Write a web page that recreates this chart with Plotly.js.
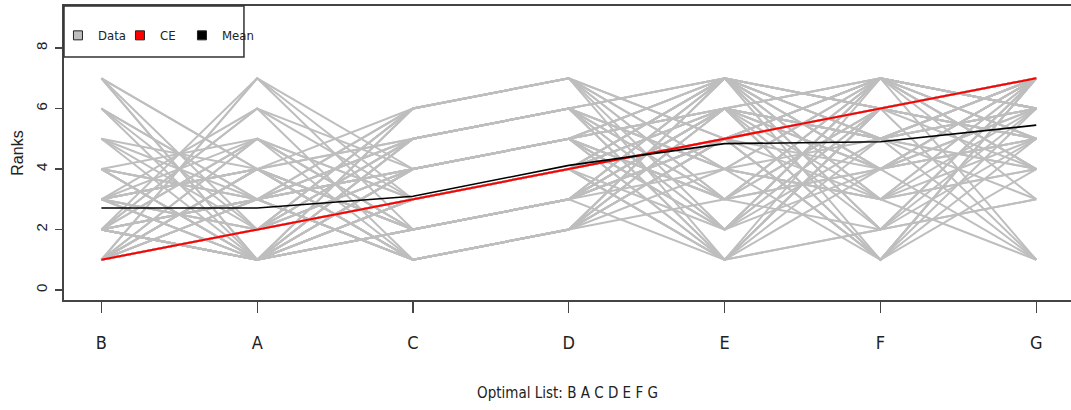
<!DOCTYPE html>
<html>
<head>
<meta charset="utf-8">
<script src="https://cdn.plot.ly/plotly-3.0.1.min.js"></script>
<style>
  html, body { margin: 0; padding: 0; background: #ffffff; }
  #chart { width: 1071px; height: 410px; }
</style>
</head>
<body>
<div id="chart"></div>
<script>
// Positions on the x axis (the optimal list order)
const categories = ['B', 'A', 'C', 'D', 'E', 'F', 'G'];

// Rank given to each item by each of the 80 rankings (one value per ranking)
const ranksB = [3,3,4,3,7,6,4,1,4,1,4,6,1,4,7,1,2,1,2,2,6,2,2,1,2,2,1,3,6,2,1,2,2,2,1,2,1,2,1,1,
                5,3,3,4,3,5,1,4,4,1,7,5,1,5,1,2,2,1,7,2,2,1,3,2,1,3,2,1,7,2,3,1,3,2,3,1,2,3,1,2];
const ranksA = [4,4,3,6,4,3,3,4,1,5,1,1,7,1,1,2,1,2,5,1,2,1,7,3,3,1,2,1,3,6,2,3,1,1,3,1,2,3,2,3,
                3,5,4,3,4,4,4,1,5,4,4,1,5,2,2,6,1,2,1,1,5,2,2,3,7,1,1,3,2,1,2,4,1,3,4,2,1,2,4,1];
const ranksC = [1,1,1,1,1,1,1,2,2,2,2,2,2,2,2,3,3,3,3,3,3,3,3,4,4,4,4,4,4,4,5,5,5,5,5,5,6,6,6,6,
                1,1,1,1,1,2,2,2,2,2,2,2,2,3,3,3,3,3,3,3,3,3,4,4,4,4,4,4,4,4,5,5,5,5,5,5,6,6,6,6];
const ranksD = [2,2,2,2,2,2,2,3,3,3,3,3,3,3,3,4,4,4,4,4,4,4,4,5,5,5,5,5,5,5,6,6,6,6,6,6,7,7,7,7,
                2,2,2,2,2,3,3,3,3,3,3,3,3,4,4,4,4,4,4,4,4,4,5,5,5,5,5,5,5,5,6,6,6,6,6,6,7,7,7,7];
const ranksE = [6,7,5,5,3,7,5,6,5,7,5,4,5,7,6,5,6,7,1,7,7,5,6,2,6,7,6,2,1,3,3,4,7,4,2,3,3,5,4,2,
                6,4,7,6,5,1,6,6,6,5,5,7,6,1,5,5,7,6,2,5,1,7,1,7,6,2,3,7,6,3,1,7,2,7,1,4,5,1,3,4];
const ranksF = [5,6,7,4,6,5,6,5,7,4,6,7,6,6,4,6,5,6,7,5,1,6,5,6,1,3,7,7,2,7,4,1,3,3,7,7,4,1,5,4,
                4,7,5,5,6,6,5,7,1,7,1,4,4,6,7,1,6,7,5,7,6,5,6,6,2,6,6,2,3,7,4,2,7,4,2,3,3,5,2,3];
const ranksG = [7,5,6,7,5,4,7,7,6,6,7,5,4,5,5,7,7,5,6,6,5,7,1,7,7,6,3,6,7,1,7,7,4,7,4,4,5,4,3,5,
                7,6,6,7,7,7,7,5,7,6,6,6,7,7,6,7,5,5,6,6,7,6,7,1,3,7,7,6,1,6,7,3,4,1,7,7,4,4,5,5];

// Consensus estimate (CE) and mean rank per position
const ceRanks   = [1, 2, 3, 4, 5, 6, 7];
const meanRanks = [2.71, 2.71, 3.10, 4.12, 4.84, 4.90, 5.45];

const yTicks = [0, 2, 4, 6, 8];
const xTitle = 'Optimal List: B A C D E F G';
const yTitle = 'Ranks';

// Build the gray "Data" lines as one trace with gaps between rankings
const columns = [ranksB, ranksA, ranksC, ranksD, ranksE, ranksF, ranksG];
const dataX = [], dataY = [];
for (let i = 0; i < ranksB.length; i++) {
  for (let j = 0; j < categories.length; j++) {
    dataX.push(categories[j]);
    dataY.push(columns[j][i]);
  }
  dataX.push(null);
  dataY.push(null);
}

const GRAY = '#bebebe';
const narrow = '"Liberation Sans Narrow", "Arial Narrow", "DejaVu Sans Condensed", sans-serif';
const regular = '"Liberation Sans", Arial, sans-serif';

function legendEntry(name, color, lineColor, lineWidth) {
  return { type: 'scatter', mode: 'markers', x: [null], y: [null], name: name, hoverinfo: 'skip',
    marker: { symbol: 'square', size: 9, color: color, line: { color: lineColor, width: lineWidth } } };
}

const traces = [
  { type: 'scatter', mode: 'lines', x: dataX, y: dataY, connectgaps: false,
    line: { color: GRAY, width: 2 }, showlegend: false, hoverinfo: 'skip', name: 'Data' },
  { type: 'scatter', mode: 'lines', x: categories, y: ceRanks,
    line: { color: '#ff0000', width: 2 }, showlegend: false, name: 'CE' },
  { type: 'scatter', mode: 'lines', x: categories, y: meanRanks,
    line: { color: '#000000', width: 1.6 }, showlegend: false, name: 'Mean' },
  // legend entries (filled squares, as in the original legend)
  legendEntry('Data', GRAY, '#222', 1),
  legendEntry('CE', '#ff0000', '#222', 1),
  legendEntry('Mean', '#000000', '#222', 1),
  // empty, invisible spacer entry so the last label is not clipped by the compact legend
  legendEntry(' ', 'rgba(0,0,0,0)', 'rgba(0,0,0,0)', 0)
];

const layout = {
  width: 1071, height: 410,
  margin: { l: 64, r: 0, t: 6, b: 110, pad: 0 },
  paper_bgcolor: '#ffffff', plot_bgcolor: '#ffffff',
  showlegend: true,
  legend: {
    orientation: 'h', x: -0.006, xanchor: 'left', y: 0.90, yanchor: 'middle',
    bgcolor: 'rgba(0,0,0,0)', borderwidth: 0,
    font: { family: narrow, size: 13, color: '#222' },
    itemwidth: 30, entrywidth: 17, entrywidthmode: 'pixels', tracegroupgap: 0
  },
  xaxis: {
    type: 'category', categoryorder: 'array', categoryarray: categories,
    range: [-0.24, 6.223], autorange: false,
    showgrid: false, zeroline: false,
    showline: true, mirror: true, linecolor: '#444', linewidth: 2,
    ticks: 'outside', ticklen: 11, tickwidth: 1.2, tickcolor: '#444',
    ticklabelstandoff: 14,
    tickfont: { family: narrow, size: 18, color: '#222' },
    title: { text: xTitle, font: { family: narrow, size: 15, color: '#222' }, standoff: 36 },
    automargin: false, fixedrange: true
  },
  yaxis: {
    range: [-0.33, 9.39], autorange: false,
    tickmode: 'array', tickvals: yTicks, ticktext: yTicks.map(String),
    showgrid: false, zeroline: false,
    showline: true, mirror: false, linecolor: '#444', linewidth: 2,
    ticks: 'outside', ticklen: 7, tickwidth: 1.2, tickcolor: '#444',
    tickangle: -90, ticklabelstandoff: 2,
    tickfont: { family: regular, size: 15, color: '#222' },
    title: { text: yTitle, font: { family: regular, size: 16, color: '#222' }, standoff: 5 },
    automargin: false, fixedrange: true
  },
  shapes: [
    { type: 'rect', xref: 'paper', yref: 'paper', x0: 0, x1: 0.1787, y0: 0.8265, y1: 1,
      line: { color: '#333', width: 1.5 }, fillcolor: 'rgba(255,255,255,0)', layer: 'above' }
  ]
};

Plotly.newPlot('chart', traces, layout, { displayModeBar: false, staticPlot: true });
</script>
</body>
</html>
